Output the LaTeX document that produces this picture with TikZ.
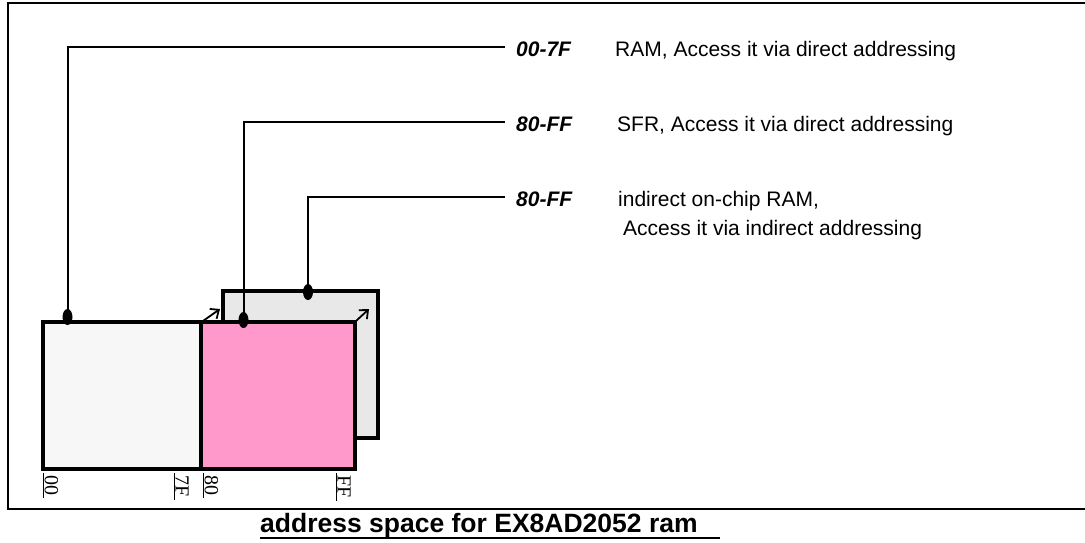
\documentclass[tikz,border=0pt]{standalone}
\usepackage{fontspec}
\setmainfont{Liberation Serif}
\newfontfamily\arialf{Liberation Sans}
\usetikzlibrary{arrows.meta,shapes.geometric}
\definecolor{lowram}{HTML}{F7F7F7}
\definecolor{sfrpink}{HTML}{FF99CC}
\definecolor{indgray}{HTML}{E8E8E8}
\begin{document}
\begin{tikzpicture}[x=1pt,y=-1pt,
  membox/.style={draw=black, line width=3.6pt, inner sep=0pt, outer sep=0pt,
                 anchor=north west, minimum height=147pt},
  dot/.style={ellipse, fill=black, inner sep=0pt, minimum width=10pt, minimum height=16pt},
  wire/.style={draw=black, line width=2pt},
  stackarrow/.style={line width=1.8pt, -{Straight Barb[length=7pt,width=12pt]}},
  rng/.style={anchor=base west, inner sep=0pt, font=\arialf\bfseries\itshape\fontsize{21}{24}\selectfont},
  desc/.style={anchor=base west, inner sep=0pt, font=\arialf\fontsize{21}{24}\selectfont},
  addr/.style={rotate=-90, anchor=south west, inner xsep=2.5pt, inner ysep=1.5pt,
               font=\fontsize{20}{22}\selectfont},
  tick/.style={draw=black, line width=1pt}
]
\useasboundingbox (0,0) rectangle (1085,542);

% outer frame (open to the right)
\draw[line width=2.5pt] (1095,3) -- (8,3) -- (8,509) -- (1095,509);

% memory blocks
\node[membox, fill=indgray, minimum width=155pt] (ind) at (223,291) {};
\node[membox, fill=lowram, minimum width=158pt] (low) at (43,322) {};
\node[membox, fill=sfrpink, minimum width=154pt] (sfr) at (201,322) {};

% stacking arrows
\coordinate (p1) at (220,309);
\coordinate (p2) at (369,309);
\draw[stackarrow] ([shift={(2,-1)}]low.north east) -- (p1);
\draw[stackarrow] ([shift={(1,-1)}]sfr.north east) -- (p2);

% leader dots and wires
\node[dot] (d1) at (67.5,317) {};
\node[dot] (d2) at (243.5,320) {};
\node[dot] (d3) at (308,292) {};
\coordinate (k1) at (505,47);
\coordinate (k2) at (505,122);
\coordinate (k3) at (505,197);
\draw[wire] (d1.center) |- (k1);
\draw[wire] (d2.center) |- (k2);
\draw[wire] (d3.center) |- (k3);

% descriptions
\node[rng] (r1) at (516,56.5) {00-7F};
\node[desc] (t1) at (615,56.5) {RAM, Access it via direct addressing};
\node[rng] (r2) at (516,131.5) {80-FF};
\node[desc] (t2) at (617,131.5) {SFR, Access it via direct addressing};
\node[rng] (r3) at (516,206.5) {80-FF};
\node[desc] (t3) at (618,206.5) {indirect on-chip RAM,};
\node[desc] (t4) at (623,235) {Access it via indirect addressing};

% address marks
\node[addr] (a00) at (43,473) {00};
\node[addr] (a7f) at (174,473) {7F};
\node[addr] (a80) at (203,473) {80};
\node[addr] (aff) at (336,473) {FF};
\foreach \n in {a00,a7f,a80,aff}
  \draw[tick] (\n.south west) -- (\n.south east);

% caption
\node[anchor=base west, inner sep=0pt, font=\arialf\bfseries\fontsize{26.5}{30}\selectfont] (cap) at (260,532) {address space for EX8AD2052 ram};
\coordinate (ulend) at (720,538);
\draw[line width=2.5pt] ([yshift=-6pt]cap.base west) -- (ulend);
\end{tikzpicture}
\end{document}
